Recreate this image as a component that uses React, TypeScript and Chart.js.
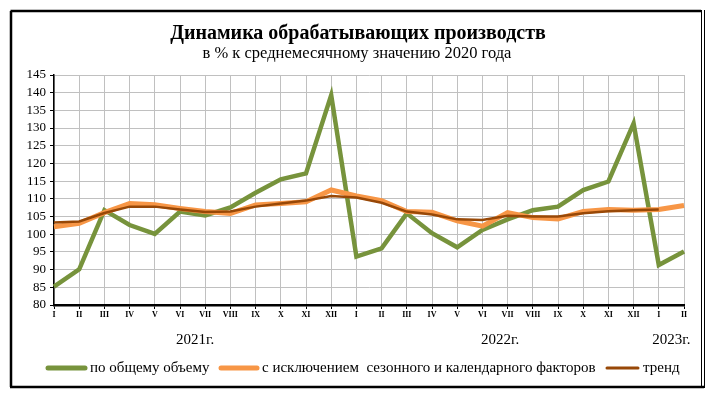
import React, { useEffect, useRef } from "react";
import { Chart, registerables } from "chart.js";

Chart.register(...registerables);

const months = ["I","II","III","IV","V","VI","VII","VIII","IX","X","XI","XII"];
const categories: string[] = [...months, ...months, "I", "II"];

const totalVolume = [85.2, 90.1, 106.8, 102.6, 100.1, 106.4, 105.3, 107.6, 111.7, 115.5, 117.2, 139.3,
  93.7, 96.0, 105.9, 100.3, 96.3, 101.2, 104.2, 106.8, 107.8, 112.5, 114.9, 131.3, 91.3, 95.1];
const seasonallyAdjusted = [102.1, 103.1, 106.1, 108.7, 108.3, 107.3, 106.4, 105.9, 108.3, 108.7, 109.2, 112.5,
  110.8, 109.5, 106.4, 106.2, 103.8, 102.3, 106.1, 104.7, 104.3, 106.4, 107.0, 106.8, 107.0, 108.1];
const trend = [103.3, 103.6, 106.0, 107.8, 107.8, 107.0, 106.3, 106.4, 107.8, 108.7, 109.5, 110.8,
  110.4, 108.9, 106.4, 105.6, 104.2, 104.0, 105.2, 105.0, 105.0, 105.9, 106.5, 106.8, 107.0, null];

const yearLabels = ["2021г.", "2022г.", "2023г."];
const yearCenters = [5.6, 17.7, 24.5];

const seriesNames = ["по общему объему", "с исключением  сезонного и календарного факторов", "тренд"];
const titleText = "Динамика обрабатывающих производств";
const subtitleText = "в % к среднемесячному значению 2020 года";

const SERIF = '"Liberation Serif", "Times New Roman", serif';
const GREEN = "#77933C";
const ORANGE = "#F79646";
const BROWN = "#984807";

const decorPlugin = {
  id: "decor",
  afterDraw(chart: any) {
    const ctx = chart.ctx as CanvasRenderingContext2D;
    const xs = chart.scales.x;
    ctx.save();
    // titles
    ctx.fillStyle = "#000";
    ctx.textAlign = "center";
    ctx.textBaseline = "middle";
    ctx.font = `bold 20px ${SERIF}`;
    ctx.fillText(titleText, 358, 34);
    ctx.font = `16.5px ${SERIF}`;
    ctx.fillText(subtitleText, 357, 54);
    // year labels
    ctx.font = `15px ${SERIF}`;
    yearLabels.forEach((t, i) => {
      const x = xs.getPixelForValue(yearCenters[i]);
      ctx.fillText(t, x, 340);
    });
    // legend
    const colors = [GREEN, ORANGE, BROWN];
    const widths = [5, 5, 3];
    const starts = [48, 221, 607];
    const lens = [37, 36, 31];
    ctx.textAlign = "left";
    ctx.font = `15px ${SERIF}`;
    seriesNames.forEach((name, i) => {
      const y = 368;
      ctx.beginPath();
      ctx.strokeStyle = colors[i];
      ctx.lineWidth = widths[i];
      ctx.lineCap = "round";
      ctx.moveTo(starts[i], y);
      ctx.lineTo(starts[i] + lens[i], y);
      ctx.stroke();
      ctx.fillStyle = "#000";
      ctx.fillText(name, starts[i] + lens[i] + 5, y);
    });
    // outer frame
    ctx.lineCap = "butt";
    ctx.strokeStyle = "#000";
    ctx.lineWidth = 2.5;
    ctx.beginPath();
    ctx.moveTo(10.5, 11);
    ctx.lineTo(701, 11);
    ctx.moveTo(11, 11);
    ctx.lineTo(11, 387);
    ctx.moveTo(10, 387);
    ctx.lineTo(704, 387);
    ctx.stroke();
    ctx.lineWidth = 1;
    ctx.beginPath();
    ctx.moveTo(701.5, 10);
    ctx.lineTo(701.5, 388);
    ctx.moveTo(704.5, 10);
    ctx.lineTo(704.5, 388);
    ctx.stroke();
    ctx.restore();
  },
};

export default function App() {
  const ref = useRef<HTMLCanvasElement | null>(null);
  useEffect(() => {
    if (!ref.current) return;
    const chart = new Chart(ref.current, {
      type: "line",
      data: {
        labels: categories,
        datasets: [
          { label: seriesNames[0], data: totalVolume, borderColor: GREEN, backgroundColor: GREEN, borderWidth: 4.5, pointRadius: 0, tension: 0, order: 3 },
          { label: seriesNames[1], data: seasonallyAdjusted, borderColor: ORANGE, backgroundColor: ORANGE, borderWidth: 5, pointRadius: 0, tension: 0, order: 2 },
          { label: seriesNames[2], data: trend, borderColor: BROWN, backgroundColor: BROWN, borderWidth: 2.5, pointRadius: 0, tension: 0, order: 1 },
        ],
      },
      options: {
        responsive: false,
        animation: false,
        layout: { padding: { left: 0, top: 75, right: 28, bottom: 70 } },
        plugins: { legend: { display: false }, title: { display: false }, tooltip: { enabled: false } },
        scales: {
          x: {
            type: "category",
            offset: false,
            afterFit(scale: any) { scale.height = 20; },
            grid: { color: "#C0C0C0", lineWidth: 1, tickColor: "#000", tickLength: 4, offset: false },
            border: { color: "#000", width: 2.5 },
            ticks: { color: "#000", font: { family: SERIF, size: 8, weight: "bold" }, padding: 1, maxRotation: 0, autoSkip: false },
          },
          y: {
            min: 80,
            max: 145,
            afterFit(scale: any) { scale.width = 54; },
            grid: { color: "#C0C0C0", lineWidth: 1, tickColor: "#000", tickLength: 4 },
            border: { color: "#000", width: 1.5 },
            ticks: { stepSize: 5, autoSkip: false, color: "#000", font: { family: SERIF, size: 13 }, padding: 4 },
          },
        },
      },
      plugins: [decorPlugin],
    });
    return () => chart.destroy();
  }, []);
  return (
    <div style={{ position: "absolute", left: 0, top: 0, width: 712, height: 395, background: "#fff" }}>
      <canvas ref={ref} width={712} height={395} />
    </div>
  );
}
